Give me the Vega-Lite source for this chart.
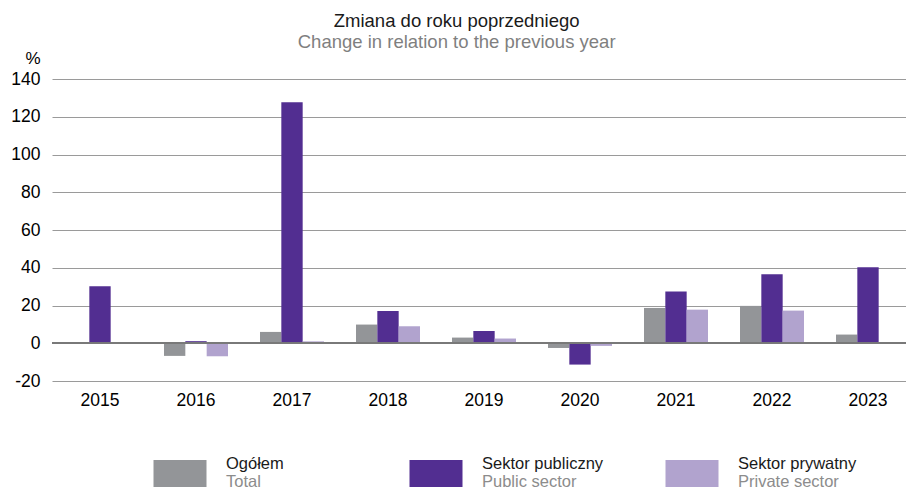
{
  "$schema": "https://vega.github.io/schema/vega-lite/v6.json",
  "background": "white",
  "padding": {"left": 10, "top": 12, "right": 0, "bottom": 0},
  "config": {
    "view": {"stroke": null},
    "font": "Liberation Sans",
    "concat": {"spacing": 46}
  },
  "title": {
    "text": "Zmiana do roku poprzedniego",
    "subtitle": "Change in relation to the previous year",
    "anchor": "middle",
    "frame": "bounds",
    "dx": -7,
    "font": "Liberation Sans",
    "fontSize": 18.5,
    "fontWeight": "normal",
    "color": "#1a1a1a",
    "subtitleFont": "Liberation Sans",
    "subtitleFontSize": 18.5,
    "subtitleColor": "#7f7f7f",
    "subtitlePadding": 2,
    "offset": -2
  },
  "vconcat": [
    {
      "width": 864,
      "height": 302,
      "data": {
        "values": [
          {"year": "2015", "series": "Ogółem", "value": 0.2},
          {"year": "2015", "series": "Sektor publiczny", "value": 30.2},
          {"year": "2015", "series": "Sektor prywatny", "value": -0.3},
          {"year": "2016", "series": "Ogółem", "value": -6.7},
          {"year": "2016", "series": "Sektor publiczny", "value": 1.1},
          {"year": "2016", "series": "Sektor prywatny", "value": -6.9},
          {"year": "2017", "series": "Ogółem", "value": 6.0},
          {"year": "2017", "series": "Sektor publiczny", "value": 127.7},
          {"year": "2017", "series": "Sektor prywatny", "value": 1.0},
          {"year": "2018", "series": "Ogółem", "value": 9.9},
          {"year": "2018", "series": "Sektor publiczny", "value": 17.1},
          {"year": "2018", "series": "Sektor prywatny", "value": 9.0},
          {"year": "2019", "series": "Ogółem", "value": 3.0},
          {"year": "2019", "series": "Sektor publiczny", "value": 6.5},
          {"year": "2019", "series": "Sektor prywatny", "value": 2.5},
          {"year": "2020", "series": "Ogółem", "value": -2.5},
          {"year": "2020", "series": "Sektor publiczny", "value": -11.3},
          {"year": "2020", "series": "Sektor prywatny", "value": -1.4},
          {"year": "2021", "series": "Ogółem", "value": 18.7},
          {"year": "2021", "series": "Sektor publiczny", "value": 27.4},
          {"year": "2021", "series": "Sektor prywatny", "value": 17.8},
          {"year": "2022", "series": "Ogółem", "value": 19.8},
          {"year": "2022", "series": "Sektor publiczny", "value": 36.6},
          {"year": "2022", "series": "Sektor prywatny", "value": 17.3},
          {"year": "2023", "series": "Ogółem", "value": 4.6},
          {"year": "2023", "series": "Sektor publiczny", "value": 40.3},
          {"year": "2023", "series": "Sektor prywatny", "value": 0.4}
        ]
      },
      "layer": [
        {
          "mark": {"type": "bar", "cornerRadius": 0},
          "encoding": {
            "x": {
              "field": "year",
              "type": "nominal",
              "scale": {"paddingInner": 0.333, "paddingOuter": 0.1665},
              "axis": {
                "title": null,
                "labelAngle": 0,
                "labelFontSize": 17.5,
                "labelColor": "#000000",
                "labelPadding": 10,
                "ticks": false,
                "domain": false,
                "grid": false
              }
            },
            "xOffset": {
              "field": "series",
              "type": "nominal",
              "scale": {"domain": ["Ogółem", "Sektor publiczny", "Sektor prywatny"], "paddingInner": 0, "paddingOuter": 0}
            },
            "y": {
              "field": "value",
              "type": "quantitative",
              "scale": {"domain": [-20, 140], "nice": false, "zero": false},
              "axis": {
                "values": [-20, 0, 20, 40, 60, 80, 100, 120, 140],
                "tickCount": 20,
                "labelExpr": "'' + datum.value",
                "labelOverlap": false,
                "labelFlush": false,
                "title": "%",
                "titleAngle": 0,
                "titleAlign": "right",
                "titleBaseline": "alphabetic",
                "titleX": -12,
                "titleY": -16,
                "titleFontSize": 17,
                "titleFontWeight": "normal",
                "titleColor": "#000000",
                "labelFontSize": 17.5,
                "labelColor": "#000000",
                "labelPadding": 12,
                "ticks": false,
                "domain": false,
                "grid": true,
                "gridColor": "#9a9a9a",
                "gridWidth": 1
              }
            },
            "color": {
              "field": "series",
              "type": "nominal",
              "scale": {
                "domain": ["Ogółem", "Sektor publiczny", "Sektor prywatny"],
                "range": ["#939598", "#522e91", "#b1a3ce"]
              },
              "legend": null
            }
          }
        },
        {
          "mark": {"type": "rule", "color": "#7a7a7a", "strokeWidth": 1},
          "encoding": {"y": {"datum": 0}}
        }
      ]
    },
    {
      "width": 768,
      "height": 27,
      "data": {
        "values": [
          {"series": "Ogółem", "en": "Total"},
          {"series": "Sektor publiczny", "en": "Public sector"},
          {"series": "Sektor prywatny", "en": "Private sector"}
        ]
      },
      "encoding": {
        "x": {
          "field": "series",
          "type": "nominal",
          "sort": ["Ogółem", "Sektor publiczny", "Sektor prywatny"],
          "scale": {"paddingInner": 0, "paddingOuter": 0},
          "axis": null
        }
      },
      "layer": [
        {
          "mark": {"type": "bar", "width": 53},
          "encoding": {
            "color": {
              "field": "series",
              "type": "nominal",
              "scale": {
                "domain": ["Ogółem", "Sektor publiczny", "Sektor prywatny"],
                "range": ["#939598", "#522e91", "#b1a3ce"]
              },
              "legend": null
            }
          }
        },
        {
          "mark": {"type": "text", "align": "left", "baseline": "alphabetic", "dx": 46, "dy": -5, "fontSize": 16.5, "color": "#1a1a1a"},
          "encoding": {"text": {"field": "series"}}
        },
        {
          "mark": {"type": "text", "align": "left", "baseline": "alphabetic", "dx": 46, "dy": 13, "fontSize": 16.5, "color": "#8c8c8c"},
          "encoding": {"text": {"field": "en"}}
        }
      ],
      "resolve": {"scale": {"color": "independent"}}
    }
  ],
  "resolve": {"scale": {"color": "independent", "x": "independent"}}
}
